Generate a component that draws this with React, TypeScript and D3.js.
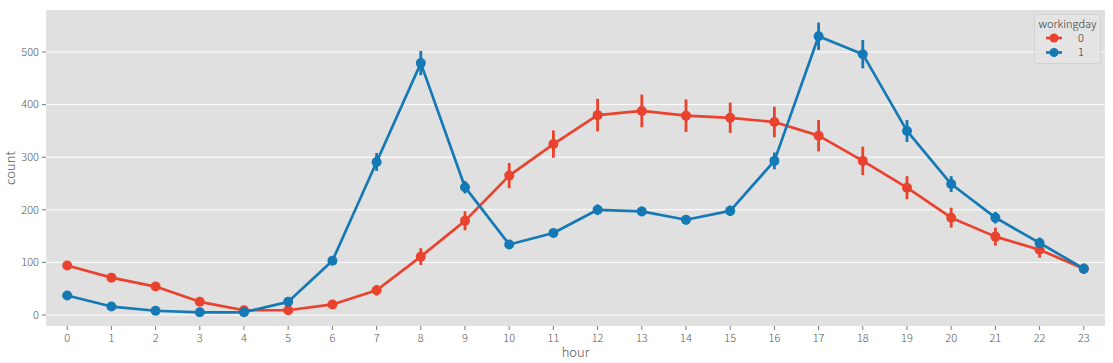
import React from "react";
import * as d3 from "d3";

const hours = d3.range(24).map(String);
const workingday0 = [94, 71, 54, 25, 9, 9, 20, 47, 111, 179, 265, 325, 380, 388, 379, 375, 367, 341, 293, 242, 185, 149, 124, 88];
const workingday0CI = [8, 6, 6, 5, 4, 4, 6, 10, 16, 18, 24, 26, 31, 31, 31, 29, 29, 30, 27, 22, 19, 17, 15, 10];
const workingday1 = [37, 16, 8, 5, 5, 25, 103, 291, 479, 243, 134, 156, 200, 197, 181, 198, 293, 530, 496, 350, 249, 185, 137, 88];
const workingday1CI = [6, 4, 3, 2, 2, 4, 6, 17, 23, 12, 6, 7, 10, 9, 9, 10, 16, 26, 27, 21, 15, 11, 10, 8];
const yTicks = [0, 100, 200, 300, 400, 500];
const seriesNames = ["0", "1"];
const colors = ["#E9432F", "#1479B5"];

const W = 1113, H = 363;
const left = 46, right = 1105, top = 10, bottom = 326;
const font = "'Noto Sans CJK KR', 'Noto Sans', sans-serif";

export default function App() {
  const x = d3.scalePoint<string>().domain(hours).range([left, right]).padding(0.48);
  const y = d3.scaleLinear().domain([-21, 580]).range([bottom, top]);
  const line = d3.line<number>().x((_, i) => x(hours[i])!).y((d) => y(d));
  const series = [
    { name: seriesNames[0], vals: workingday0, ci: workingday0CI, color: colors[0] },
    { name: seriesNames[1], vals: workingday1, ci: workingday1CI, color: colors[1] },
  ];
  return (
    <svg width={W} height={H} style={{ position: "absolute", left: 0, top: 0 }}>
      <rect x={0} y={0} width={W} height={H} fill="#fff" />
      <rect x={left} y={top} width={right - left} height={bottom - top} fill="#E0E0E0" />
      {yTicks.map((t) => (
        <g key={t}>
          <line x1={left} x2={right} y1={y(t)} y2={y(t)} stroke="#fff" strokeWidth={1} />
          <line x1={left - 4} x2={left} y1={y(t)} y2={y(t)} stroke="#555" strokeWidth={0.8} />
          <text x={left - 7} y={y(t)} dy="0.35em" textAnchor="end" fontSize={11} fontWeight={300} fill="#555" fontFamily={font}>{t}</text>
        </g>
      ))}
      {hours.map((h) => (
        <g key={h}>
          <line x1={x(h)} x2={x(h)} y1={bottom} y2={bottom + 4} stroke="#555" strokeWidth={0.8} />
          <text x={x(h)} y={bottom + 16} textAnchor="middle" fontSize={11} fontWeight={300} fill="#555" fontFamily={font}>{h}</text>
        </g>
      ))}
      <text x={(left + right) / 2} y={357} textAnchor="middle" fontSize={13} fontWeight={300} fill="#555" fontFamily={font}>hour</text>
      <text transform={`translate(15,${(top + bottom) / 2}) rotate(-90)`} textAnchor="middle" fontSize={13} fontWeight={300} fill="#555" fontFamily={font}>count</text>
      {series.map((s) => (
        <g key={s.name}>
          {s.vals.map((v, i) => (
            <line key={i} x1={x(hours[i])} x2={x(hours[i])} y1={y(v - s.ci[i])} y2={y(v + s.ci[i])} stroke={s.color} strokeWidth={2.8} />
          ))}
          <path d={line(s.vals)!} fill="none" stroke={s.color} strokeWidth={2.7} strokeLinejoin="round" />
          {s.vals.map((v, i) => (
            <circle key={i} cx={x(hours[i])} cy={y(v)} r={5} fill={s.color} />
          ))}
        </g>
      ))}
      <g>
        <rect x={1034.5} y={14.5} width={66} height={49} rx={3} fill="#E5E5E5" stroke="#CCCCCC" strokeWidth={0.8} opacity={0.9} />
        <text x={1067.5} y={28} textAnchor="middle" fontSize={11} fontWeight={300} fill="#333" fontFamily={font}>workingday</text>
        {series.map((s, i) => (
          <g key={s.name}>
            <line x1={1046} x2={1062} y1={38 + i * 14.5} y2={38 + i * 14.5} stroke={s.color} strokeWidth={2.7} />
            <circle cx={1054} cy={38 + i * 14.5} r={4.5} fill={s.color} />
            <text x={1078} y={38 + i * 14.5} dy="0.35em" fontSize={11} fontWeight={300} fill="#333" fontFamily={font}>{s.name}</text>
          </g>
        ))}
      </g>
    </svg>
  );
}
